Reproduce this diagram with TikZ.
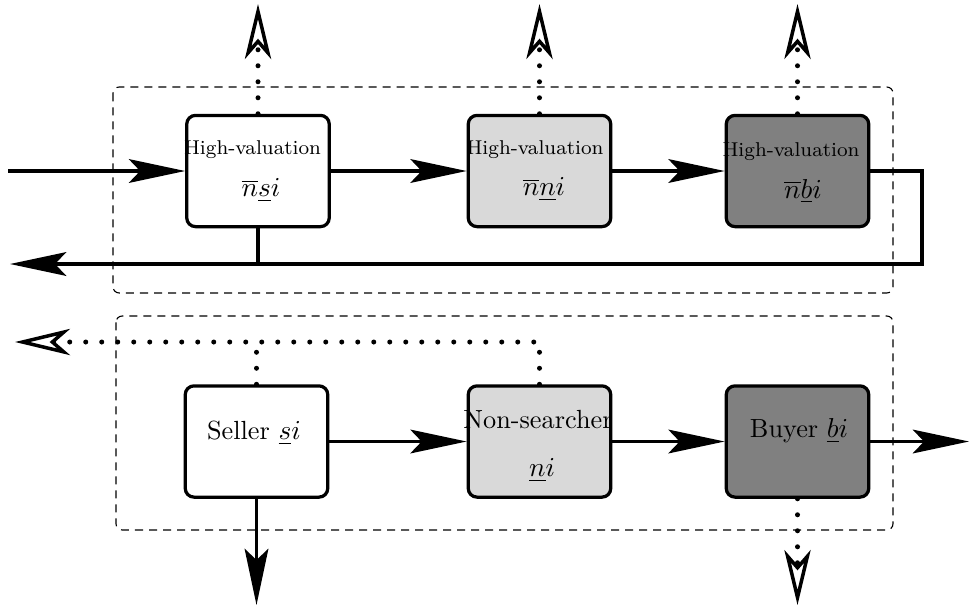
\documentclass[tikz,border=0pt]{standalone}
\usetikzlibrary{arrows.meta}
\begin{document}
\begin{tikzpicture}[x=0.4pt,y=-0.4pt,
  box/.style={draw,line width=1.3pt,rounded corners=3.5pt,minimum width=57pt,minimum height=44.5pt,inner sep=0pt},
  txt/.style={inner sep=0pt,font=\fontsize{10.5}{12}\selectfont},
  mtxt/.style={inner sep=0pt,font=\fontsize{11}{13}\selectfont},
  hv/.style={inner sep=0pt,font=\footnotesize},
  frame/.style={draw,line width=0.45pt,dash pattern=on 3.2pt off 2.4pt,rounded corners=2.5pt},
  conn/.style={line width=1.25pt},
  dotline/.style={line width=2pt,line cap=round,dash pattern=on 0pt off 6.4pt},
  fulltip/.tip={Stealth[length=22.5pt,width=9.5pt,inset=4.5pt]},
  opentip/.tip={Stealth[open,fill=white,length=22pt,width=10.5pt,inset=6pt,line width=1.4pt]}
]
\useasboundingbox (0,0) rectangle (971,608);
% frames
\draw[frame] (113,87) rectangle (893,293);
\draw[frame] (116,316) rectangle (893,530);
% top row
\node[box] (b1) at (258,171) {};
\node[box,fill=gray!30] (b2) at (539.5,171) {};
\node[box,fill=gray] (b3) at (797.5,171) {};
\node[hv] (h1) at (252.5,150) {High-valuation};
\node[mtxt] (m1) at (261,190) {$\overline{n}\underline{s}i$};
\node[hv] (h2) at (535,150) {High-valuation};
\node[mtxt] (m2) at (544,189) {$\overline{n}\underline{n}i$};
\node[hv] (h3) at (791,152) {High-valuation};
\node[mtxt] (m3) at (803,191) {$\overline{n}\underline{b}i$};
% bottom row
\node[box] (s) at (256.5,441.5) {};
\node[box,fill=gray!30] (n) at (539.5,441.5) {};
\node[box,fill=gray] (b) at (797.5,441.5) {};
\node[txt] (st) at (254,433) {Seller $\underline{s}i$};
\node[txt] (nt) at (538,420) {Non-searcher};
\node[txt] (nm) at (542,470) {$\underline{n}i$};
\node[txt] (bt) at (799,431) {Buyer $\underline{b}i$};
% coordinates
\coordinate (in) at (8,171);
\coordinate (r1) at (922,171);
\coordinate (r2) at (922,264);
\coordinate (r3) at (10,264);
\coordinate (j1) at (258,264);
\coordinate (t1) at (258,4);
\coordinate (t2) at (539.5,4);
\coordinate (t3) at (797.5,4);
\coordinate (l1) at (539.5,342);
\coordinate (l2) at (15,342);
\coordinate (l3) at (256.5,342);
\coordinate (out) at (969,441.5);
\coordinate (d1) at (256.5,605);
\coordinate (d2) at (797.5,605);
% top connectors
\draw[conn,-fulltip] (in) -- (b1.west);
\draw[conn,-fulltip] (b1.east) -- (b2.west);
\draw[conn,-fulltip] (b2.east) -- (b3.west);
\draw[conn,-fulltip] (b3.east) -- (r1) -- (r2) -- (r3);
\draw[conn] (b1.south) -- (j1);
\draw[dotline,-opentip] (b1.north) -- (t1);
\draw[dotline,-opentip] (b2.north) -- (t2);
\draw[dotline,-opentip] (b3.north) -- (t3);
% bottom connectors
\draw[dotline,-opentip] (n.north) -- (l1) -- (l2);
\draw[dotline] (s.north) -- (l3);
\draw[conn,-fulltip] (s.east) -- (n.west);
\draw[conn,-fulltip] (n.east) -- (b.west);
\draw[conn,-fulltip] (b.east) -- (out);
\draw[conn,-fulltip] (s.south) -- (d1);
\draw[dotline,-opentip] (b.south) -- (d2);
\end{tikzpicture}
\end{document}
